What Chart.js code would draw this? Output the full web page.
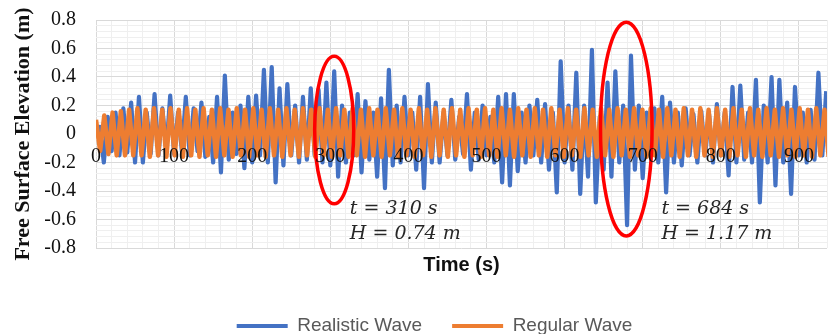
<!DOCTYPE html>
<html><head><meta charset="utf-8">
<script src="https://cdn.jsdelivr.net/npm/chart.js@4.4.0/dist/chart.umd.min.js"></script>
<style>html,body{margin:0;padding:0;background:#fff;}</style>
</head><body>
<canvas id="c" width="838" height="334"></canvas>
<script>
// ---- data ----
const seriesNames = ['Realistic Wave', 'Regular Wave'];
// realistic wave: trough at t = 0,10,20,... and crest at t = 5,15,25,...
const realisticTroughs = [0,-0.20,-0.12,-0.15,-0.13,-0.20,-0.20,-0.14,-0.15,-0.12,
 -0.14,-0.12,-0.15,-0.12,-0.16,-0.20,-0.27,-0.18,-0.14,-0.24,
 -0.20,-0.15,-0.20,-0.34,-0.22,-0.15,-0.20,-0.18,-0.15,-0.20,
 -0.22,-0.30,-0.20,-0.15,-0.27,-0.18,-0.30,-0.38,-0.22,-0.20,
 -0.15,-0.25,-0.38,-0.20,-0.20,-0.15,-0.18,-0.14,-0.25,-0.18,
 -0.15,-0.20,-0.34,-0.36,-0.26,-0.20,-0.15,-0.20,-0.25,-0.41,
 -0.20,-0.25,-0.42,-0.30,-0.48,-0.25,-0.30,-0.20,-0.64,-0.25,
 -0.31,-0.15,-0.20,-0.41,-0.20,-0.22,-0.15,-0.20,-0.15,-0.20,
 -0.15,-0.29,-0.20,-0.18,-0.20,-0.48,-0.20,-0.36,-0.20,-0.42,
 -0.15,-0.20,-0.18,-0.15];
const realisticCrests = [0.05,0.12,0.15,0.18,0.22,0.26,0.15,0.28,0.18,0.27,
 0.15,0.26,0.18,0.22,0.12,0.26,0.41,0.15,0.20,0.26,
 0.27,0.45,0.47,0.32,0.35,0.20,0.26,0.32,0.31,0.36,
 0.44,0.20,0.15,0.28,0.23,0.15,0.25,0.45,0.20,0.26,
 0.15,0.26,0.35,0.22,0.15,0.24,0.12,0.28,0.15,0.20,
 0.12,0.26,0.28,0.28,0.15,0.20,0.24,0.21,0.15,0.51,
 0.20,0.43,0.20,0.59,0.12,0.36,0.44,0.20,0.55,0.20,
 0.15,0.18,0.26,0.22,0.15,0.18,0.14,0.16,0.14,0.21,
 0.15,0.33,0.34,0.15,0.38,0.20,0.40,0.38,0.22,0.33,
 0.15,0.17,0.43,0.30];
// regular wave: successive crests/troughs
const regularValues = [0.10,-0.12,0.13,-0.14,0.15,-0.15,0.16,-0.15,0.17,-0.15,
 0.18,-0.15,0.17,-0.16,0.18,-0.15,0.17,-0.16,0.18,-0.15,0.17,-0.16,0.18,-0.15,0.17,-0.16,0.18,-0.15,0.17,-0.16,
 0.18,-0.15,0.17,-0.16,0.18,-0.15,0.17,-0.16,0.18,-0.15,0.17,-0.16,0.18,-0.15,0.17,-0.16,0.18,-0.15,0.17,-0.16,
 0.18,-0.15,0.17,-0.16,0.18,-0.15,0.17,-0.16,0.18,-0.15,0.17,-0.16,0.18,-0.15,0.17,-0.16,0.18,-0.15,0.17,-0.16,
 0.18,-0.15,0.17,-0.16,0.18,-0.15,0.17,-0.16,0.18,-0.15,0.17,-0.16,0.18,-0.15,0.17,-0.16,0.18,-0.15,0.17,-0.16,
 0.18,-0.15,0.17,-0.16,0.18,-0.15,0.17,-0.16,0.18,-0.15,0.17,-0.16,0.18,-0.15,0.17,-0.16,0.18,-0.15,0.17,-0.16,
 0.18,-0.15,0.17,-0.16,0.18,-0.15,0.17,-0.16,0.18,-0.15,0.17,-0.16,0.18,-0.15,0.17,-0.16,0.18,-0.15,0.17,-0.16,
 0.18,-0.15,0.17,-0.16,0.18,-0.15,0.17,-0.16,0.18,-0.15,0.17,-0.16,0.18,-0.15,0.17,-0.16,0.18,-0.15,0.17,-0.16,
 0.18,-0.15,0.17,-0.16,0.18,-0.15,0.17,-0.16,0.18,-0.15,0.17,-0.16,0.18,-0.15,0.17,-0.16,0.18,-0.15,0.17,-0.16,
 0.18,-0.15,0.17,-0.16,0.18,-0.15,0.17,-0.16];
const realisticHalfStep = 5;   // s between trough and crest samples
const regularHalfStep = 5.3;   // s between regular crest and trough
const xTickLabels = [0,100,200,300,400,500,600,700,800,900];
const yTickLabels = [-0.8,-0.6,-0.4,-0.2,0,0.2,0.4,0.6,0.8];
const highlightWaves = [
  {t: 305, tHalf: 25, top: 0.545, bottom: -0.49, note: ['t = 310 s', 'H = 0.74 m'], noteT: 325},
  {t: 679, tHalf: 33, top: 0.785, bottom: -0.715, note: ['t = 684 s', 'H = 1.17 m'], noteT: 724}
];
const noteRows = [-0.525, -0.705];

// ---- build points ----
const realisticPoints = [];
for (let k = 0; k < realisticTroughs.length; k++) {
  realisticPoints.push({x: 2 * k * realisticHalfStep, y: realisticTroughs[k]});
  realisticPoints.push({x: (2 * k + 1) * realisticHalfStep, y: realisticCrests[k]});
}
const regularPoints = regularValues.map((v, i) => ({x: i * regularHalfStep, y: v}));

const isMajorY = v => Math.abs(Math.round(v * 100)) % 20 === 0;
const isMajorX = v => Math.round(v) % 100 === 0;

const annot = {
  id: 'annot',
  afterLayout(chart) {
    const lg = chart.legend;
    if (lg) { lg.left += 16; lg.right += 16; lg.top += 11.5; lg.bottom += 11.5; }
  },
  afterDatasetsDraw(chart) {
    const {ctx, scales: {x, y}} = chart;
    ctx.save();
    highlightWaves.forEach(w => {
      const cx = x.getPixelForValue(w.t);
      const rx = x.getPixelForValue(w.t + w.tHalf) - cx;
      const yt = y.getPixelForValue(w.top), yb = y.getPixelForValue(w.bottom);
      ctx.beginPath();
      ctx.ellipse(cx, (yt + yb) / 2, rx, (yb - yt) / 2, 0, 0, Math.PI * 2);
      ctx.strokeStyle = '#ff0000';
      ctx.lineWidth = 3.5;
      ctx.stroke();
      ctx.fillStyle = '#262626';
      ctx.font = 'italic 19px "DejaVu Serif"';
      ctx.textAlign = 'left';
      ctx.textBaseline = 'middle';
      w.note.forEach((line, i) => {
        ctx.fillText(line, x.getPixelForValue(w.noteT), y.getPixelForValue(noteRows[i]));
      });
    });
    ctx.restore();
  }
};

new Chart(document.getElementById('c'), {
  type: 'line',
  data: {
    datasets: [
      {label: seriesNames[0], data: realisticPoints, borderColor: '#4472C4', backgroundColor: '#4472C4',
       borderWidth: 4.2, pointRadius: 0, tension: 0, borderJoinStyle: 'round', order: 1},
      {label: seriesNames[1], data: regularPoints, borderColor: '#ED7D31', backgroundColor: '#ED7D31',
       borderWidth: 4.5, pointRadius: 0, tension: 0, borderJoinStyle: 'round', order: 0}
    ]
  },
  options: {
    responsive: false,
    animation: false,
    devicePixelRatio: 1,
    layout: {padding: {top: 20, right: 1, bottom: 0, left: 0}},
    scales: {
      x: {
        type: 'linear', min: 0, max: 936, position: {y: 0},
        border: {display: false},
        grid: {drawTicks: false, color: c => isMajorX(c.tick.value) ? '#d9d9d9' : '#efefef', lineWidth: 1},
        ticks: {stepSize: 20, autoSkip: false, maxRotation: 0, padding: 11, z: 1,
          color: '#111', font: {family: '"Liberation Serif"', size: 20},
          callback: v => (isMajorX(v) && xTickLabels.includes(Math.round(v))) ? String(Math.round(v)) : ''}
      },
      x2: {
        type: 'linear', min: 0, max: 936, position: 'bottom',
        grid: {display: false, drawTicks: false}, border: {display: false}, ticks: {display: false},
        title: {display: true, text: 'Time (s)', color: '#111',
          font: {family: '"Liberation Sans"', size: 20, weight: 'bold', lineHeight: 1},
          padding: {top: 7, bottom: 0}}
      },
      y: {
        min: -0.8, max: 0.8,
        border: {display: false},
        afterFit: s => { s.width = 96; },
        grid: {drawTicks: true, tickLength: 20, tickColor: 'rgba(0,0,0,0)',
          color: c => isMajorY(c.tick.value) ? '#d9d9d9' : '#efefef', lineWidth: 1},
        ticks: {stepSize: 0.04, autoSkip: false, padding: 0, color: '#111',
          font: {family: '"Liberation Serif"', size: 20},
          callback: v => {
            if (!isMajorY(v)) return '';
            const r = Math.round(v * 10) / 10;
            return yTickLabels.includes(r) ? String(r) : '';
          }},
        title: {display: true, text: 'Free Surface Elevation (m)', color: '#111',
          font: {family: '"Liberation Serif"', size: 22, weight: 'bold', lineHeight: 1.2},
          padding: {top: 10, bottom: 0}}
      }
    },
    plugins: {
      legend: {
        position: 'bottom',
        labels: {
          boxWidth: 51, boxHeight: 4, padding: 30, color: '#595959',
          font: {family: '"Liberation Sans"', size: 19},
          generateLabels: chart => Chart.defaults.plugins.legend.labels.generateLabels(chart)
            .sort((a, b) => a.datasetIndex - b.datasetIndex)
            .map(it => Object.assign(it, {lineWidth: 0, fillStyle: it.strokeStyle}))
        }
      },
      tooltip: {enabled: false}
    }
  },
  plugins: [annot]
});
</script>
</body></html>
